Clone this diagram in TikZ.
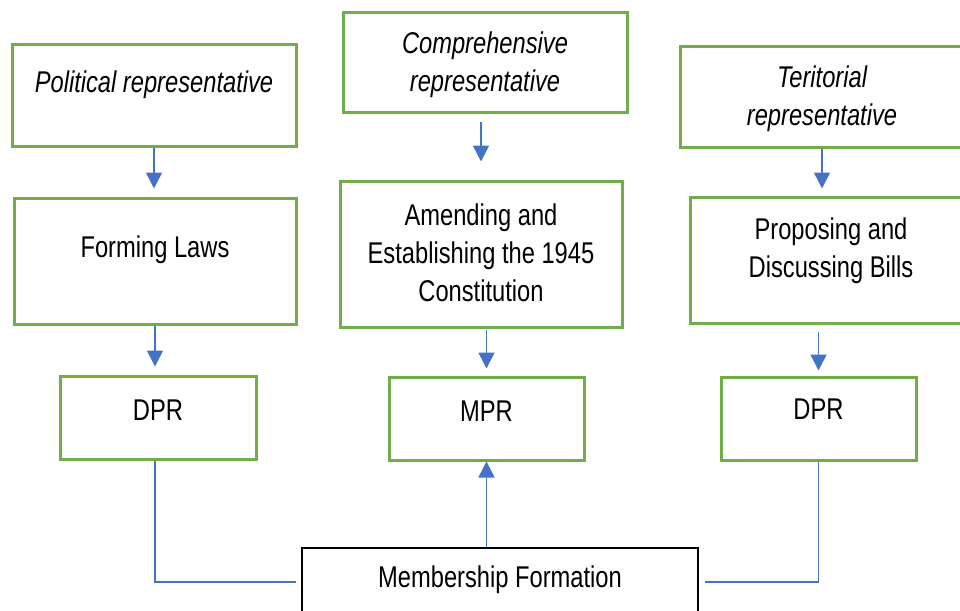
\documentclass[tikz,border=0pt]{standalone}
\usepackage{fontspec}
\setmainfont[FakeStretch=0.79]{Liberation Sans}
\usetikzlibrary{arrows.meta}
\definecolor{leaf}{HTML}{70AD47}
\definecolor{cobalt}{HTML}{4472C4}
\tikzset{gb/.style={draw=leaf,line width=3pt,minimum width=284pt,minimum height=101pt,inner sep=0pt},
  tx/.style={inner sep=0pt,align=center,font=\fontsize{30}{38}\selectfont},
  itx/.style={tx,font=\fontsize{30}{38}\selectfont\itshape},
  ar/.style={cobalt,line width=1.5pt,-{Triangle[length=16pt,width=16pt]}},
  ln/.style={cobalt,line width=1.5pt}}

\begin{document}
\begin{tikzpicture}[x=1pt,y=-1pt]
\useasboundingbox (0,0) rectangle (960,610);
\node[gb] (pol) at (154,95.5) {};
\node[gb,minimum height=99pt] (comp) at (485,62.5) {};
\node[gb,minimum height=100pt] (ter) at (822,97) {};
\node[gb,minimum width=282pt,minimum height=126pt] (form) at (155,261) {};
\node[gb,minimum width=282pt,minimum height=146pt] (amend) at (481,254) {};
\node[gb,minimum width=282pt,minimum height=126pt] (prop) at (831,260) {};
\node[gb,minimum width=196pt,minimum height=83pt] (dpr1) at (158,417.5) {};
\node[gb,minimum width=195pt,minimum height=83pt] (mpr) at (486.5,418.5) {};
\node[gb,minimum width=195pt,minimum height=83pt] (dpr2) at (818.5,418.5) {};
\node[draw,line width=1.3pt,minimum width=396pt,minimum height=68pt] (memb) at (500,582) {};

\node[itx] (tpol) at (154,85) {Political representative};
\node[itx] (tcomp) at (485,65) {Comprehensive\\representative};
\node[itx] (tter) at (822,99) {Teritorial\\representative};
\node[tx] (tform) at (155,250) {Forming Laws};
\node[tx] (tamend) at (481,253) {Amending and\\Establishing the 1945\\Constitution};
\node[tx] (tprop) at (831,250.5) {Proposing and\\Discussing Bills};
\node[tx] (tdpr1) at (158,410) {DPR};
\node[tx] (tmpr) at (486.5,411) {MPR};
\node[tx] (tdpr2) at (818.5,409) {DPR};
\node[tx] (tmemb) at (500,580) {Membership Formation};

\draw[ar,shorten >=8pt] (pol.south) -- (pol.south |- form.north);
\draw[ar,shorten <=8pt,shorten >=18pt] (amend.north |- comp.south) -- (amend.north);
\draw[ar,shorten >=7pt] (ter.south) -- (ter.south |- prop.north);
\draw[ar,shorten >=8pt] (form.south) -- (form.south |- dpr1.north);
\draw[ar,shorten <=1pt,shorten >=7pt] (mpr.north |- amend.south) -- (mpr.north);
\draw[ar,shorten <=7pt,shorten >=5pt] (dpr2.north |- prop.south) -- (dpr2.north);
\draw[ar] (mpr.south |- memb.north) -- (mpr.south);
\draw[ln,shorten >=5pt] (form.south |- dpr1.south) |- (memb.west);
\draw[ln,shorten >=6pt] (dpr2.south) |- (memb.east);
\end{tikzpicture}
\end{document}
